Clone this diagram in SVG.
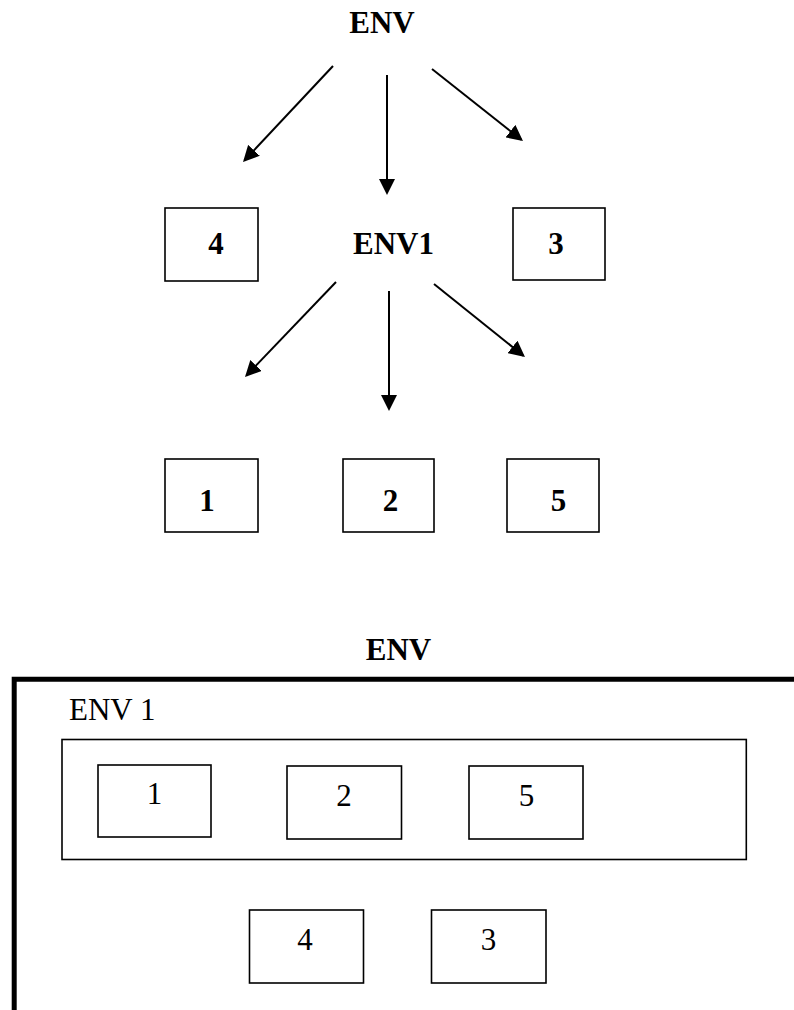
<svg xmlns="http://www.w3.org/2000/svg" width="794" height="1010" viewBox="0 0 794 1010">
  <style>
    .box { fill: #fff; stroke: #000; stroke-width: 1.6; }
    .lbl { font-family: "Liberation Serif", "Times New Roman", serif; font-size: 31px; fill: #000; }
    .b { font-weight: bold; }
    .mid { text-anchor: middle; }
    .edge { stroke: #000; stroke-width: 2; fill: none; marker-end: url(#head); }
    .frame { stroke: #000; stroke-width: 5; fill: none; }
  </style>
  <defs>
    <marker id="head" markerUnits="userSpaceOnUse" markerWidth="16" markerHeight="16" refX="14" refY="8" orient="auto">
      <path d="M0,0 L16,8 L0,16 Z" fill="#000"/>
    </marker>
  </defs>

  <rect width="794" height="1010" fill="#fff"/>

  <!-- Tree view -->
  <g id="env-top"><text class="lbl b mid" x="382" y="33">ENV</text></g>
  <g id="env1-top"><text class="lbl b mid" x="393.5" y="254">ENV1</text></g>

  <g id="node4-top">
    <rect class="box" x="165" y="208" width="93" height="73"/>
    <text class="lbl b mid" x="216" y="254">4</text>
  </g>
  <g id="node3-top">
    <rect class="box" x="513" y="208" width="92" height="72"/>
    <text class="lbl b mid" x="556" y="254">3</text>
  </g>
  <g id="node1-top">
    <rect class="box" x="165" y="459" width="93" height="73"/>
    <text class="lbl b mid" x="207" y="511">1</text>
  </g>
  <g id="node2-top">
    <rect class="box" x="343" y="459" width="91" height="73"/>
    <text class="lbl b mid" x="390.5" y="511">2</text>
  </g>
  <g id="node5-top">
    <rect class="box" x="507" y="459" width="92" height="73"/>
    <text class="lbl b mid" x="558.5" y="511">5</text>
  </g>

  <g id="connectors">
    <line class="edge" x1="333" y1="66" x2="244.4" y2="160.5"/>
    <line class="edge" x1="387" y1="75" x2="387" y2="193"/>
    <line class="edge" x1="432" y1="69" x2="521.4" y2="139.8"/>
    <line class="edge" x1="336" y1="282" x2="246.4" y2="375.6"/>
    <line class="edge" x1="389" y1="291" x2="389" y2="409"/>
    <line class="edge" x1="434" y1="284" x2="523.4" y2="355.7"/>
  </g>

  <!-- Nested view -->
  <g id="env-nested">
    <text class="lbl b mid" x="398.5" y="660">ENV</text>
    <path class="frame" d="M14.2,1010 V679.2 H794"/>
  </g>

  <g id="env1-nested">
    <text class="lbl" x="69" y="720">ENV 1</text>
    <rect class="box" x="62" y="739.5" width="684.3" height="120"/>
  </g>

  <g id="node1-nested">
    <rect class="box" x="98" y="765" width="113" height="72"/>
    <text class="lbl mid" x="154.5" y="804">1</text>
  </g>
  <g id="node2-nested">
    <rect class="box" x="287" y="766" width="114.5" height="73"/>
    <text class="lbl mid" x="344" y="806">2</text>
  </g>
  <g id="node5-nested">
    <rect class="box" x="469" y="766" width="114" height="73"/>
    <text class="lbl mid" x="526.5" y="806">5</text>
  </g>
  <g id="node4-nested">
    <rect class="box" x="249.5" y="910" width="114" height="73"/>
    <text class="lbl mid" x="305" y="950">4</text>
  </g>
  <g id="node3-nested">
    <rect class="box" x="431.5" y="910" width="114.5" height="73"/>
    <text class="lbl mid" x="488.5" y="950">3</text>
  </g>
</svg>
